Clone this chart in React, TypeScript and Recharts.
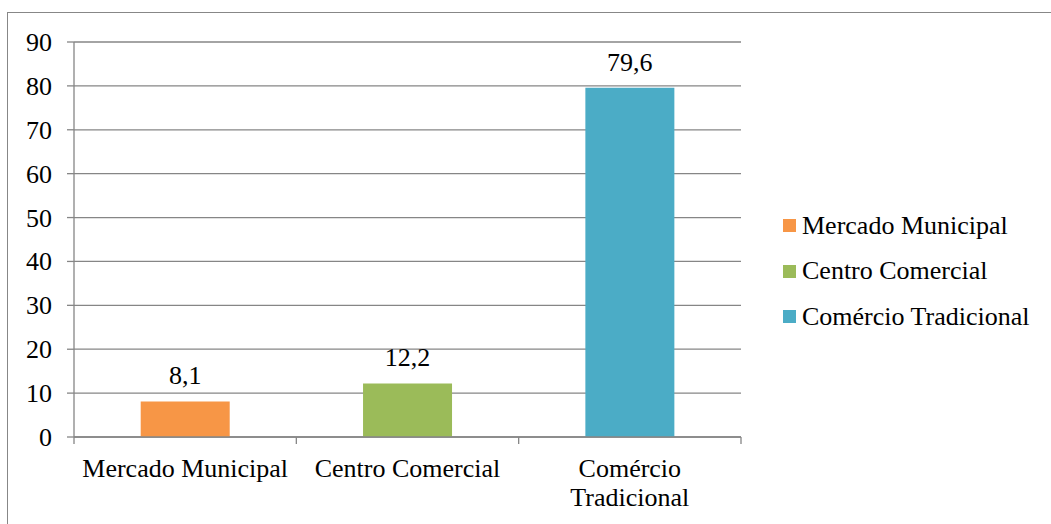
import React from "react";
import { BarChart, Bar, XAxis, YAxis, CartesianGrid, Cell, LabelList } from "recharts";

const categories = ["Mercado Municipal", "Centro Comercial", "Comércio Tradicional"];
const tickLines = [["Mercado Municipal"], ["Centro Comercial"], ["Comércio", "Tradicional"]];
const values = [8.1, 12.2, 79.6];
const colors = ["#F79646", "#9BBB59", "#4BACC6"];
const yTicks = [0, 10, 20, 30, 40, 50, 60, 70, 80, 90];

const FONT = "'Liberation Serif', 'Times New Roman', Times, serif";
const AXIS = "#868686";
const W = 1051;
const H = 524;
const MARGIN = { top: 42, right: 310, bottom: 7, left: 10 };
const Y_W = 64;
// width of one category band, used for the boundary tick marks
const BAND = (W - MARGIN.left - MARGIN.right - Y_W) / categories.length;

const data = categories.map((name, i) => ({ name, value: values[i] }));

function CategoryTick(props: any) {
  const { x, y, index } = props;
  const lines = tickLines[index] || [props.payload.value];
  const top = y - 8; // axis line position (tickSize 0 + tickMargin 8)
  return (
    <g>
      <line x1={x - BAND / 2} x2={x - BAND / 2} y1={top} y2={top + 7} stroke={AXIS} strokeWidth={1.3} />
      {index === categories.length - 1 && (
        <line x1={x + BAND / 2} x2={x + BAND / 2} y1={top} y2={top + 7} stroke={AXIS} strokeWidth={1.3} />
      )}
      <text x={x} y={y} textAnchor="middle" fill="#000" fontSize={26} fontFamily={FONT}>
        {lines.map((l: string, i: number) => (
          <tspan key={i} x={x} dy={i === 0 ? 32 : 29}>
            {l}
          </tspan>
        ))}
      </text>
    </g>
  );
}

function ValueTick(props: any) {
  const { x, y, payload } = props;
  return (
    <text x={x} y={y} dy={9} textAnchor="end" fill="#000" fontSize={26} fontFamily={FONT}>
      {payload.value}
    </text>
  );
}

function LegendBox() {
  return (
    <div style={{ position: "absolute", left: 783, top: 203, width: 268, fontFamily: FONT, fontSize: 26, color: "#000" }}>
      {categories.map((c, i) => (
        <div key={c} style={{ display: "flex", alignItems: "center", height: 45.5, whiteSpace: "nowrap" }}>
          <span style={{ display: "inline-block", width: 13, height: 13, background: colors[i], marginRight: 6 }} />
          <span>{c}</span>
        </div>
      ))}
    </div>
  );
}

export default function App() {
  return (
    <div style={{ position: "absolute", left: 0, top: 0, width: W, height: H, overflow: "hidden", background: "#fff", fontFamily: FONT }}>
      <div style={{ position: "absolute", left: 7, top: 12, width: 1200, height: 700, border: "1.5px solid #878787" }} />
      <BarChart
        width={W}
        height={H}
        data={data}
        margin={MARGIN}
        barCategoryGap="30%"
        style={{ position: "absolute", left: 0, top: 0 }}
      >
        <CartesianGrid vertical={false} stroke={AXIS} strokeWidth={1.3} />
        <XAxis
          dataKey="name"
          tickLine={false}
          tickSize={0}
          tickMargin={8}
          axisLine={{ stroke: AXIS, strokeWidth: 1.3 }}
          tick={<CategoryTick />}
          interval={0}
          height={80}
        />
        <YAxis
          domain={[0, 90]}
          ticks={yTicks}
          interval={0}
          width={Y_W}
          tickSize={7}
          tickMargin={15}
          axisLine={{ stroke: AXIS, strokeWidth: 1.3 }}
          tickLine={{ stroke: AXIS, strokeWidth: 1.3 }}
          tick={<ValueTick />}
        />
        <Bar dataKey="value" isAnimationActive={false}>
          {data.map((d, i) => (
            <Cell key={d.name} fill={colors[i]} />
          ))}
          <LabelList
            dataKey="value"
            position="top"
            offset={17}
            fill="#000"
            fontSize={26}
            fontFamily={FONT}
            formatter={(v: any) => String(v).replace(".", ",")}
          />
        </Bar>
      </BarChart>
      <LegendBox />
    </div>
  );
}
